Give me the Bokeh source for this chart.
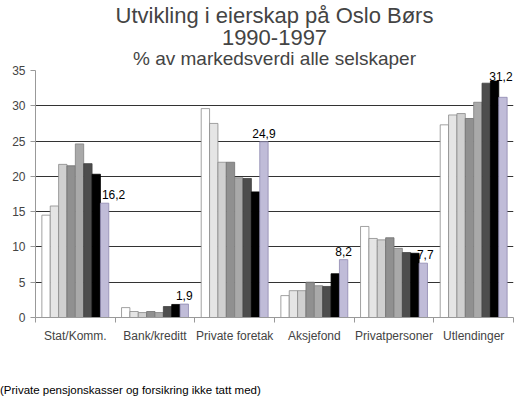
from bokeh.plotting import figure
from bokeh.layouts import column
from bokeh.models import ColumnDataSource, FixedTicker, Range1d, Title, LabelSet, Div
from bokeh.core.properties import value
from bokeh.embed import file_html
from bokeh.resources import INLINE

# Eierandeler på Oslo Børs, % av markedsverdi
categories = ["Stat/Komm.", "Bank/kreditt", "Private foretak", "Aksjefond",
              "Privatpersoner", "Utlendinger"]
years = ["1990", "1991", "1992", "1993", "1994", "1995", "1996", "1997"]

share_1990 = [14.5, 1.4, 29.6, 3.1, 12.9, 27.3]
share_1991 = [15.8, 0.85, 27.5, 3.8, 11.2, 28.7]
share_1992 = [21.7, 0.7, 22.0, 3.8, 11.0, 28.9]
share_1993 = [21.5, 0.85, 22.0, 5.0, 11.3, 28.2]
share_1994 = [24.6, 0.7, 19.8, 4.5, 9.8, 30.5]
share_1995 = [21.8, 1.55, 19.7, 4.4, 9.2, 33.2]
share_1996 = [20.3, 1.85, 17.8, 6.2, 9.1, 33.5]
share_1997 = [16.2, 1.9, 24.9, 8.2, 7.7, 31.2]

series = [share_1990, share_1991, share_1992, share_1993,
          share_1994, share_1995, share_1996, share_1997]

fills = ["#ffffff", "#e5e5e5", "#d0d0d0", "#909090", "#a9a9a9", "#4d4d4d", "#000000", "#c0bcd8"]
edges = ["#8a8a8a", "#8a8a8a", "#8a8a8a", "#707070", "#808080", "#404040", "#000000", "#8e88b0"]

FONT = "Liberation Sans"
bar_w = 0.105

xs, tops, fc, lc = [], [], [], []
for j, vals in enumerate(series):
    for i, v in enumerate(vals):
        xs.append(i + 0.5 + (j - 3.5) * bar_w)
        tops.append(v)
        fc.append(fills[j])
        lc.append(edges[j])
bars = ColumnDataSource(dict(x=xs, top=tops, fill=fc, line=lc))

# verdietiketter for 1997
lab_x = [i + 0.5 + 3.5 * bar_w for i in range(len(categories))]
lab_y = list(share_1997)
lab_y[5] = max(v[5] for v in series)  # flyttet over høyeste søyle
lab_dx = [9, 0, 0, 0, 2, -2]
lab_dy = [4, 4, 4, 4, 4, 0]
labels = ColumnDataSource(dict(x=lab_x, y=lab_y, dx=lab_dx, dy=lab_dy,
                               txt=[f"{v:.1f}".replace(".", ",") for v in share_1997]))

p = figure(width=515, height=381, x_range=Range1d(0, 6), y_range=Range1d(0, 35),
           output_backend="svg", toolbar_location=None,
           min_border_left=35, min_border_right=2, min_border_top=63, min_border_bottom=64)

p.title = Title(text="Utvikling i eierskap på Oslo Børs", align="center", offset=-8,
                text_font=FONT, text_font_size="22px", text_font_style="normal", standoff=0)
p.add_layout(Title(text="% av markedsverdi alle selskaper", align="center", offset=-8,
                   text_font=FONT, text_font_size="19px", text_font_style="normal",
                   standoff=3), "above")
p.add_layout(Title(text="1990-1997", align="center", offset=-8, text_font=FONT,
                   text_font_size="22px", text_font_style="normal", standoff=0), "above")

p.vbar(x="x", top="top", width=bar_w, source=bars, fill_color="fill", line_color="line",
       line_width=0.8)

p.add_layout(LabelSet(x="x", y="y", text="txt", source=labels, text_align="center",
                      text_baseline="bottom", x_offset="dx", y_offset="dy",
                      text_font=value(FONT), text_font_size="12px", text_color="black"))

p.xaxis.ticker = FixedTicker(ticks=[i + 0.5 for i in range(len(categories))],
                             minor_ticks=list(range(len(categories) + 1)))
p.xaxis.major_label_overrides = {i + 0.5: c for i, c in enumerate(categories)}
p.xaxis.major_tick_out = 0
p.xaxis.major_tick_in = 0
p.xaxis.minor_tick_out = 5
p.xaxis.minor_tick_in = 0
p.xaxis.minor_tick_line_color = "#999999"
p.xaxis.axis_line_color = "#999999"
p.xaxis.major_label_standoff = 6
p.xaxis.major_label_text_font = FONT
p.xaxis.major_label_text_font_size = "12px"

p.yaxis.ticker = FixedTicker(ticks=list(range(0, 36, 5)))
p.yaxis.minor_tick_line_color = None
p.yaxis.major_tick_out = 5
p.yaxis.major_tick_in = 0
p.yaxis.major_tick_line_color = "#999999"
p.yaxis.axis_line_color = "#999999"
p.yaxis.major_label_standoff = 5
p.yaxis.major_label_text_font = FONT
p.yaxis.major_label_text_font_size = "12px"

p.xgrid.grid_line_color = None
p.ygrid.grid_line_color = "#333333"
p.ygrid.grid_line_width = 1
p.outline_line_color = None

note = Div(text="(Private pensjonskasser og forsikring ikke tatt med)", width=515, height=8,
           margin=(0, 0, 0, 0),
           styles={"font-family": FONT, "font-size": "11.5px", "line-height": "18px",
                   "color": "black", "white-space": "nowrap"})

layout = column(p, note, spacing=0)

open("out.html", "w").write(file_html(layout, INLINE))
